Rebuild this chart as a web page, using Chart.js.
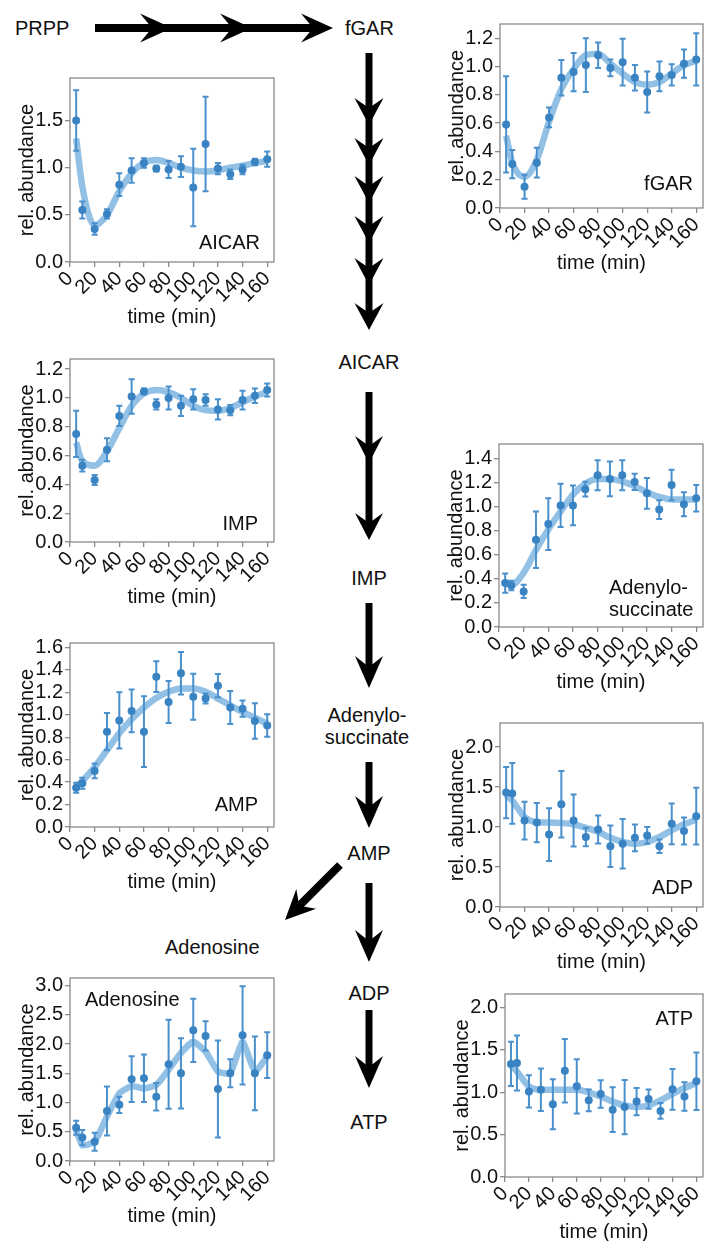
<!DOCTYPE html>
<html>
<head>
<meta charset="utf-8">
<script src="https://cdn.jsdelivr.net/npm/chart.js@4.4.1/dist/chart.umd.min.js"></script>
<style>
html, body { margin: 0; padding: 0; background: #fff; }
#page { position: relative; width: 713px; height: 1241px; overflow: hidden;
        font-family: "Liberation Sans", Arial, sans-serif; color: #111; }
.lbl { position: absolute; font-size: 20px; line-height: 1; white-space: nowrap; }
.lbl.mid { transform: translate(-50%, -50%); }
.lbl.left { transform: translateY(-50%); }
canvas.c { position: absolute; }
#arrows { position: absolute; left: 0; top: 0; }
</style>
</head>
<body>
<div id="page">
  <svg id="arrows" width="713" height="1241"></svg>
  <div class="lbl left" style="left:15px;top:28px">PRPP</div>
  <div class="lbl left" style="left:345px;top:28px">fGAR</div>
  <div class="lbl mid" style="left:369px;top:362px">AICAR</div>
  <div class="lbl mid" style="left:369px;top:578px">IMP</div>
  <div class="lbl mid" style="left:367px;top:715px">Adenylo-</div>
  <div class="lbl mid" style="left:367px;top:737px">succinate</div>
  <div class="lbl mid" style="left:369px;top:853px">AMP</div>
  <div class="lbl left" style="left:165px;top:947px">Adenosine</div>
  <div class="lbl mid" style="left:369px;top:993px">ADP</div>
  <div class="lbl mid" style="left:369px;top:1122px">ATP</div>
</div>
<script>
// sampling times (min), shared by every panel
const TIME = [5, 10, 20, 30, 40, 50, 60, 70, 80, 90, 100, 110, 120, 130, 140, 150, 160];

// mean, error (half-width) and fitted trend per metabolite
const AICAR_MEAN = [1.50, 0.55, 0.35, 0.51, 0.82, 0.97, 1.05, 0.99, 0.98, 1.01, 0.79, 1.25, 0.99, 0.93, 0.98, 1.06, 1.09];
const AICAR_ERR  = [0.32, 0.09, 0.06, 0.05, 0.12, 0.13, 0.05, 0.03, 0.09, 0.11, 0.41, 0.50, 0.06, 0.05, 0.05, 0.035, 0.08];
const AICAR_FIT  = [1.31, 0.80, 0.39, 0.50, 0.75, 0.94, 1.05, 1.08, 1.05, 1.00, 0.97, 0.96, 0.97, 1.00, 1.02, 1.05, 1.07];

const FGAR_MEAN = [0.59, 0.31, 0.15, 0.32, 0.64, 0.92, 0.96, 1.01, 1.08, 0.99, 1.03, 0.92, 0.82, 0.93, 0.94, 1.02, 1.05];
const FGAR_ERR  = [0.34, 0.10, 0.085, 0.105, 0.07, 0.125, 0.135, 0.19, 0.09, 0.06, 0.165, 0.09, 0.145, 0.105, 0.075, 0.10, 0.185];
const FGAR_FIT  = [0.51, 0.32, 0.22, 0.34, 0.61, 0.84, 0.98, 1.08, 1.09, 1.02, 0.95, 0.89, 0.87, 0.89, 0.95, 1.01, 1.04];

const IMP_MEAN = [0.75, 0.53, 0.43, 0.64, 0.875, 1.01, 1.045, 0.955, 1.00, 0.945, 0.99, 0.985, 0.92, 0.915, 0.985, 1.015, 1.055];
const IMP_ERR  = [0.16, 0.04, 0.035, 0.08, 0.07, 0.12, 0.02, 0.035, 0.08, 0.07, 0.07, 0.04, 0.07, 0.035, 0.065, 0.05, 0.045];
const IMP_FIT  = [0.69, 0.56, 0.53, 0.63, 0.79, 0.945, 1.03, 1.055, 1.04, 1.00, 0.945, 0.915, 0.91, 0.93, 0.97, 1.01, 1.04];

const ADS_MEAN = [0.365, 0.345, 0.295, 0.725, 0.855, 1.01, 1.01, 1.145, 1.26, 1.23, 1.26, 1.205, 1.11, 0.975, 1.18, 1.02, 1.07];
const ADS_ERR  = [0.08, 0.04, 0.055, 0.235, 0.215, 0.18, 0.165, 0.062, 0.125, 0.145, 0.125, 0.068, 0.127, 0.078, 0.127, 0.10, 0.11];
const ADS_FIT  = [0.36, 0.35, 0.45, 0.64, 0.81, 0.96, 1.10, 1.19, 1.23, 1.23, 1.21, 1.17, 1.12, 1.08, 1.06, 1.06, 1.06];

const AMP_MEAN = [0.35, 0.39, 0.50, 0.85, 0.95, 1.035, 0.85, 1.34, 1.115, 1.37, 1.16, 1.145, 1.26, 1.065, 1.055, 0.945, 0.905];
const AMP_ERR  = [0.045, 0.05, 0.065, 0.167, 0.25, 0.19, 0.315, 0.137, 0.187, 0.19, 0.205, 0.045, 0.104, 0.147, 0.072, 0.158, 0.10];
const AMP_FIT  = [0.36, 0.41, 0.535, 0.685, 0.835, 0.96, 1.065, 1.15, 1.205, 1.235, 1.235, 1.205, 1.145, 1.085, 1.025, 0.975, 0.92];

const ADP_MEAN = [1.43, 1.42, 1.08, 1.055, 0.905, 1.285, 1.08, 0.875, 0.97, 0.76, 0.79, 0.865, 0.895, 0.76, 1.04, 0.95, 1.135];
const ADP_ERR  = [0.32, 0.38, 0.235, 0.245, 0.33, 0.415, 0.325, 0.115, 0.175, 0.26, 0.31, 0.167, 0.104, 0.085, 0.255, 0.17, 0.355];
const ADP_FIT  = [1.40, 1.33, 1.125, 1.06, 1.055, 1.05, 1.035, 0.99, 0.94, 0.865, 0.815, 0.79, 0.815, 0.875, 0.96, 1.035, 1.09];

const ADO_MEAN = [0.57, 0.40, 0.33, 0.855, 0.96, 1.40, 1.415, 1.10, 1.655, 1.50, 2.235, 2.14, 1.23, 1.50, 2.15, 1.50, 1.81];
const ADO_ERR  = [0.12, 0.13, 0.155, 0.42, 0.14, 0.39, 0.405, 0.235, 0.76, 0.60, 0.54, 0.25, 0.83, 0.24, 0.84, 0.63, 0.39];
const ADO_FIT  = [0.53, 0.27, 0.33, 0.76, 1.16, 1.28, 1.24, 1.30, 1.56, 1.85, 2.04, 1.87, 1.53, 1.50, 2.04, 1.53, 1.785];

const ATP_MEAN = [1.335, 1.345, 1.01, 1.03, 0.86, 1.255, 1.07, 0.905, 0.98, 0.795, 0.825, 0.89, 0.92, 0.78, 1.035, 0.95, 1.13];
const ATP_ERR  = [0.26, 0.325, 0.19, 0.25, 0.295, 0.375, 0.32, 0.128, 0.163, 0.265, 0.32, 0.16, 0.113, 0.092, 0.24, 0.167, 0.34];
const ATP_FIT  = [1.32, 1.245, 1.07, 1.03, 1.03, 1.03, 1.03, 1.00, 0.95, 0.89, 0.845, 0.825, 0.845, 0.905, 0.98, 1.05, 1.11];

const FONT = '"Liberation Sans", Arial, sans-serif';
const DOT = '#3a83c3';
const BAR = '#4a90cc';
const FIT = '#93c1e6';
const FRAME = '#8a8a8a';
const INK = '#111';

const page = document.getElementById('page');

// error bars are drawn just before the points dataset (index 0), so dots sit on top
const errorBars = {
  id: 'errorBars',
  beforeDatasetDraw(chart, args, opts) {
    if (args.index !== 0 || !opts.err) return;
    const { ctx, scales: { x, y } } = chart;
    const pts = chart.data.datasets[0].data;
    ctx.save();
    ctx.strokeStyle = BAR;
    ctx.lineWidth = 2;
    pts.forEach((p, i) => {
      const px = x.getPixelForValue(p.x);
      const top = y.getPixelForValue(p.y + opts.err[i]);
      const bot = y.getPixelForValue(p.y - opts.err[i]);
      ctx.beginPath();
      ctx.moveTo(px, top); ctx.lineTo(px, bot);
      ctx.moveTo(px - 3, top); ctx.lineTo(px + 3, top);
      ctx.moveTo(px - 3, bot); ctx.lineTo(px + 3, bot);
      ctx.stroke();
    });
    ctx.restore();
  }
};

// grey box round the plot
const frame = {
  id: 'frame',
  beforeDatasetsDraw(chart) {
    const { ctx, chartArea: a } = chart;
    ctx.save();
    ctx.strokeStyle = FRAME;
    ctx.lineWidth = 1.3;
    ctx.strokeRect(a.left, a.top, a.right - a.left, a.bottom - a.top);
    ctx.restore();
  }
};

// metabolite name inside the plot
const inLabel = {
  id: 'inLabel',
  afterDraw(chart, args, o) {
    if (!o.lines) return;
    const { ctx, chartArea: a } = chart;
    ctx.save();
    ctx.font = `20px ${FONT}`;
    ctx.fillStyle = INK;
    ctx.textBaseline = 'middle';
    ctx.textAlign = o.right ? 'right' : 'left';
    const x = o.right ? a.right - o.dx : a.left + o.dx;
    o.lines.forEach((t, i) => {
      const y = o.fromTop ? a.top + o.dy[i] : a.bottom - o.dy[i];
      ctx.fillText(t, x, y);
    });
    ctx.restore();
  }
};

function panel({ rect, mean, err, fit, yMax, yStep, label, tension = 0.4, mono = true }) {
  const PL = 70, PT = 14, PR = 14, XH = 72;
  const cv = document.createElement('canvas');
  cv.className = 'c';
  cv.width = PL + rect.w + PR;
  cv.height = PT + rect.h + XH;
  cv.style.left = (rect.x - PL) + 'px';
  cv.style.top = (rect.y - PT) + 'px';
  page.appendChild(cv);

  const tickFont = { family: FONT, size: 20 };
  return new Chart(cv, {
    type: 'scatter',
    data: {
      datasets: [
        {
          data: TIME.map((t, i) => ({ x: t, y: mean[i] })),
          showLine: false,
          pointRadius: 4,
          pointBackgroundColor: DOT,
          pointBorderWidth: 0,
        },
        {
          data: TIME.map((t, i) => ({ x: t, y: fit[i] })),
          showLine: true,
          pointRadius: 0,
          borderColor: FIT,
          borderWidth: 6.5,
          tension,
          cubicInterpolationMode: mono ? 'monotone' : 'default',
          borderJoinStyle: 'round',
        },
      ],
    },
    options: {
      responsive: false,
      animation: false,
      events: [],
      layout: { padding: { left: 0, top: PT, right: PR, bottom: 0 } },
      plugins: {
        legend: { display: false },
        tooltip: { enabled: false },
        errorBars: { err },
        inLabel: label,
      },
      scales: {
        x: {
          type: 'linear',
          min: 0,
          max: 165.5,
          afterFit(s) { s.height = XH; },
          ticks: {
            stepSize: 20, includeBounds: false, autoSkip: false,
            minRotation: 45, maxRotation: 45,
            color: INK, font: tickFont, padding: 0,
          },
          grid: { drawOnChartArea: false, drawTicks: true, tickLength: 5, color: FRAME, lineWidth: 1.3 },
          border: { display: false },
          title: { display: true, text: 'time (min)', color: INK, font: tickFont, padding: { top: 0, bottom: 5 } },
        },
        y: {
          min: 0,
          max: yMax,
          afterFit(s) { s.width = PL; },
          ticks: {
            stepSize: yStep, includeBounds: false, autoSkip: false,
            color: INK, font: tickFont, padding: 2,
            callback: v => v.toFixed(1),
          },
          grid: { drawOnChartArea: false, drawTicks: true, tickLength: 5, color: FRAME, lineWidth: 1.3 },
          border: { display: false },
          title: { display: true, text: 'rel. abundance', color: INK, font: tickFont, padding: { top: 15, bottom: 0 } },
        },
      },
    },
    plugins: [errorBars, frame, inLabel],
  });
}

panel({ rect: { x: 70, y: 78, w: 204, h: 184 }, mean: AICAR_MEAN, err: AICAR_ERR, fit: AICAR_FIT,
        yMax: 1.95, yStep: 0.5, label: { lines: ['AICAR'], right: true, dx: 14, dy: [19] } });
panel({ rect: { x: 500, y: 24, w: 203, h: 184 }, mean: FGAR_MEAN, err: FGAR_ERR, fit: FGAR_FIT,
        yMax: 1.30, yStep: 0.2, label: { lines: ['fGAR'], right: true, dx: 10, dy: [24] } });
panel({ rect: { x: 70, y: 359, w: 204, h: 183 }, mean: IMP_MEAN, err: IMP_ERR, fit: IMP_FIT,
        yMax: 1.27, yStep: 0.2, label: { lines: ['IMP'], right: true, dx: 16, dy: [18] } });
panel({ rect: { x: 499, y: 444, w: 204, h: 183 }, mean: ADS_MEAN, err: ADS_ERR, fit: ADS_FIT,
        yMax: 1.52, yStep: 0.2, label: { lines: ['Adenylo-', 'succinate'], right: false, dx: 110, dy: [39, 17] } });
panel({ rect: { x: 70, y: 643, w: 204, h: 184 }, mean: AMP_MEAN, err: AMP_ERR, fit: AMP_FIT,
        yMax: 1.64, yStep: 0.2, label: { lines: ['AMP'], right: true, dx: 16, dy: [22] } });
panel({ rect: { x: 500, y: 723, w: 203, h: 184 }, mean: ADP_MEAN, err: ADP_ERR, fit: ADP_FIT,
        yMax: 2.3, yStep: 0.5, label: { lines: ['ADP'], right: true, dx: 10, dy: [19] } });
panel({ rect: { x: 70, y: 978, w: 204, h: 183 }, mean: ADO_MEAN, err: ADO_ERR, fit: ADO_FIT,
        yMax: 3.13, yStep: 0.5, tension: 0.15, mono: false,
        label: { lines: ['Adenosine'], right: false, dx: 15, dy: [22], fromTop: true } });
panel({ rect: { x: 505, y: 994, w: 198, h: 183 }, mean: ATP_MEAN, err: ATP_ERR, fit: ATP_FIT,
        yMax: 2.16, yStep: 0.5, label: { lines: ['ATP'], right: true, dx: 10, dy: [25], fromTop: true } });

// pathway arrows (pure diagram, no data)
const svg = document.getElementById('arrows');
const NS = 'http://www.w3.org/2000/svg';
function arrow(x1, y1, x2, y2, tips, { sw = 7, L = 32, W = 28, N = 21 } = {}) {
  const len = Math.hypot(x2 - x1, y2 - y1);
  const dx = (x2 - x1) / len, dy = (y2 - y1) / len;
  const nx = -dy, ny = dx;
  const last = tips[tips.length - 1];
  const shaft = document.createElementNS(NS, 'line');
  shaft.setAttribute('x1', x1); shaft.setAttribute('y1', y1);
  shaft.setAttribute('x2', x1 + dx * (last - N)); shaft.setAttribute('y2', y1 + dy * (last - N));
  shaft.setAttribute('stroke', '#000'); shaft.setAttribute('stroke-width', sw);
  svg.appendChild(shaft);
  tips.forEach(t => {
    const tx = x1 + dx * t, ty = y1 + dy * t;
    const pts = [
      [tx, ty],
      [tx - dx * L + nx * W / 2, ty - dy * L + ny * W / 2],
      [tx - dx * N, ty - dy * N],
      [tx - dx * L - nx * W / 2, ty - dy * L - ny * W / 2],
    ];
    const poly = document.createElementNS(NS, 'polygon');
    poly.setAttribute('points', pts.map(p => p.join(',')).join(' '));
    poly.setAttribute('fill', '#000');
    svg.appendChild(poly);
  });
}
arrow(95, 28, 333, 28, [77, 157, 238], { sw: 8, L: 32, W: 29, N: 20 });
arrow(369, 53, 369, 330, [72, 112, 150, 190, 232, 277], { sw: 7, L: 27, W: 29, N: 17 });
arrow(369, 392, 369, 540, [71, 148], { sw: 7, L: 27, W: 28, N: 17 });
arrow(369, 603, 369, 688, [85]);
arrow(369, 762, 369, 828, [66]);
arrow(340, 865, 285, 920, [Math.hypot(55, 55)], { sw: 8, L: 30, W: 28, N: 20 });
arrow(369, 883, 369, 962, [79]);
arrow(369, 1010, 369, 1088, [78]);
</script>
</body>
</html>
